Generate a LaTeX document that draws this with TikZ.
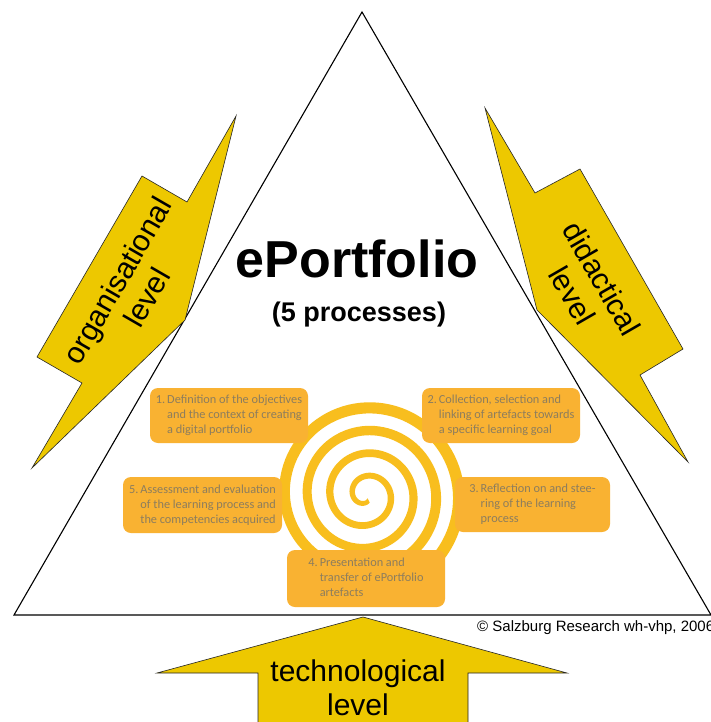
\documentclass[tikz,border=0pt]{standalone}
\usepackage{fontspec}
\setmainfont{Liberation Sans}
\newfontfamily\boxfont{Carlito}
\usetikzlibrary{positioning}
\definecolor{procorange}{HTML}{F9B232}
\definecolor{proctext}{HTML}{8C7D5E}
\definecolor{spiralgold}{HTML}{F8BE1E}
\definecolor{boltyellow}{HTML}{EDC800}

\begin{document}
\begin{tikzpicture}[
    x=1pt, y=-1pt,
    proc/.style={fill=procorange, rounded corners=8pt, minimum width=158pt, minimum height=55pt, inner sep=0pt, text=proctext, font=\boxfont\fontsize{12.3}{15}\selectfont},
    bolt/.style={draw=black!85, line width=0.6pt, fill=boltyellow},
    bolttext/.style={align=center, inner sep=0pt, font=\fontsize{30}{34}\selectfont},
    declare function={sr(\a)=19+(\a-270)*0.063056; sw(\a)=5+(\a-64)*0.004775;}
]
\clip (0,0) rectangle (711,722);
\fill[white] (0,0) rectangle (711,722);

\coordinate (apex) at (362,12);
\coordinate (leftcorner) at (14,615);
\coordinate (rightcorner) at (711,615);
\draw[line width=1.1pt] (apex) -- (leftcorner) -- (rightcorner) -- cycle;

\draw[bolt] (236,116) -- (187,202) -- (142,176) -- (37,357) -- (82,383) -- (32,468) -- (185,320) -- cycle;
\draw[bolt] (485,108) -- (535,193) -- (580,169) -- (683,349) -- (640,375) -- (688,462) -- (537,310) -- cycle;
\draw[bolt] (363,617) -- (567,673) -- (468,673) -- (468,730) -- (258,730) -- (258,673) -- (157,673) -- cycle;

\node[bolttext, rotate=60] (orglevel) at (132,289) {organisational\\level};
\node[bolttext, rotate=-60] (didlevel) at (587,287) {didactical\\level};
\node[bolttext] (techlevel) at (358,688) {technological\\level};

\node[anchor=base, font=\bfseries\fontsize{52}{62}\selectfont] (title) at (357,277) {ePortfolio};
\node[anchor=base, font=\bfseries\fontsize{27}{32}\selectfont] (subtitle) at (359,321) {(5 processes)};

\fill[spiralgold] plot[domain=64:1530, samples=400, variable=\a] ({366+(sr(\a)+sw(\a)/2)*cos(\a)}, {495+(sr(\a)+sw(\a)/2)*sin(\a)})
    -- plot[domain=1530:64, samples=400, variable=\a] ({366+(sr(\a)-sw(\a)/2)*cos(\a)}, {495+(sr(\a)-sw(\a)/2)*sin(\a)}) -- cycle;

\node[proc] (objectives) at (229,415.5) {\begin{tabular}{@{}l@{\hspace{2pt}}l@{}}1. & Definition of the objectives\\ & and the context of creating\\ & a digital portfolio\end{tabular}};
\node[proc] (collection) at (501,415.5) {\begin{tabular}{@{}l@{\hspace{2pt}}l@{}}2. & Collection, selection and\\ & linking of artefacts towards\\ & a specific learning goal\end{tabular}};
\node[proc, minimum width=155pt] (reflection) at (532.5,504.5) {\begin{tabular}{@{}l@{\hspace{2pt}}l@{}}3. & Reflection on and stee-\\ & ring of the learning\\ & process\end{tabular}};
\node[proc, minimum height=57pt] (presentation) at (366,578.5) {\begin{tabular}{@{}l@{\hspace{2pt}}l@{}}4. & Presentation and\\ & transfer of ePortfolio\\ & artefacts\end{tabular}};
\node[proc, minimum width=159pt, minimum height=56pt] (assessment) at (202.5,505) {\begin{tabular}{@{}l@{\hspace{2pt}}l@{}}5. & Assessment and evaluation\\ & of the learning process and\\ & the competencies acquired\end{tabular}};

\node[anchor=west, inner sep=0pt, font=\fontsize{15}{18}\selectfont] (credit) at (477,628) {\textcopyright{} Salzburg Research wh-vhp, 2006};
\end{tikzpicture}
\end{document}
